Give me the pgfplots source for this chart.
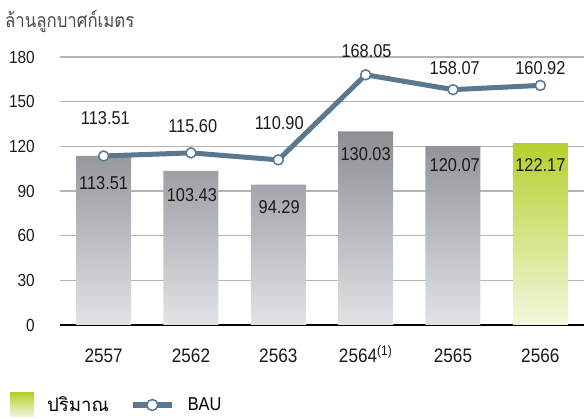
\documentclass[border=0pt]{standalone}
\usepackage{fontspec}
\setmainfont{Liberation Sans}[FakeStretch=0.88]
\newfontfamily\thaifont[Script=Thai]{Loma}
\newfontfamily\thaititle[Script=Thai, FakeStretch=0.86]{Loma}
\usepackage{pgfplots}
\pgfplotsset{compat=1.18}
\usepackage{pgfplotstable}
\definecolor{barTop}{HTML}{8B8E92}
\definecolor{barBot}{HTML}{E1E4E7}
\definecolor{grTop}{HTML}{B3D12E}
\definecolor{grBot}{HTML}{F4F7DE}
\definecolor{legGreen}{HTML}{B3D46B}
\definecolor{bauc}{HTML}{5A7890}
\definecolor{gridc}{HTML}{B4B4B4}
\definecolor{txt}{HTML}{1A1A1A}
\definecolor{titlegray}{HTML}{4A4A4A}

\pgfplotstableread{
x y
0 113.51
1 103.43
2 94.29
3 130.03
4 120.07
}\graybars
\pgfplotstableread{
x y
5 122.17
}\greenbar
\pgfplotstableread{
x y
0 113.51
1 115.60
2 110.90
3 168.05
4 158.07
5 160.92
}\bautable
\pgfplotstableread{
x y label
0 95.4 113.51
1.01 87.3 103.43
2.01 78.9 94.29
3.0 114.5 130.03
4.02 107.1 120.07
5.0 107.5 122.17
}\barlabels
\pgfplotstableread{
x y label
0.02 138.7 113.51
1.02 133.3 115.60
2.01 135.3 110.90
3.01 184.0 168.05
4.02 172.3 158.07
5.0 172.3 160.92
}\baulabels

\begin{document}
\begin{tikzpicture}
\path[use as bounding box] (0pt,0pt) rectangle (584pt,419pt);
\begin{axis}[
 at={(60pt,94pt)}, anchor=south west,
 scale only axis, width=524pt, height=268pt,
 xmin=-0.5, xmax=5.5, ymin=0, ymax=180,
 clip=false,
 axis x line*=bottom, axis y line*=left,
 x axis line style={black, line width=1.8pt, -},
 y axis line style={draw=none},
 major tick length=0pt,
 ytick={0,30,...,180},
 xtick={0,...,5},
 xticklabels={2557,2562,2563,2564\textsuperscript{(1)},2565,2566},
 ymajorgrids, grid style={gridc, line width=1.3pt},
 yticklabel style={anchor=east, inner sep=0pt, xshift=-25pt, font=\fontsize{17.5}{20}\selectfont, text=txt},
 xticklabel style={anchor=base, inner sep=0pt, yshift=-38pt, font=\fontsize{19.5}{22}\selectfont, text=txt},
 /pgf/number format/assume math mode=true,
 legend style={at={(axis description cs:-0.0954,-0.2985)}, anchor=west, draw=none, fill=none, inner sep=0pt, outer sep=0pt, font=\fontsize{18.6}{22}\selectfont, nodes={inner sep=0pt}, /tikz/every odd column/.append style={column sep=13pt}, /tikz/every even column/.append style={column sep=21pt}},
 legend columns=-1,
]
\addplot[ybar, bar width=55pt, bar shift=0pt, draw=none, top color=barTop, bottom color=barBot, forget plot] table[x=x,y=y] {\graybars};
\addplot[ybar, bar width=55pt, bar shift=0pt, draw=none, top color=grTop, bottom color=grBot, legend image code/.code={\fill[legGreen] (0pt,-12pt) rectangle (24pt,12pt);}] table[x=x,y=y] {\greenbar};
\addlegendentry{\thaifont ปริมาณ}
\addplot[bauc, line width=5pt, mark=*, mark size=5pt, mark options={fill=white, draw=bauc, line width=1.5pt}, legend image code/.code={\draw[bauc, line width=6pt] (0pt,0pt) -- (39pt,0pt); \draw[bauc, fill=white, line width=1.5pt] (19.5pt,0pt) circle (5.5pt);}] table[x=x,y=y] {\bautable};
\addlegendentry{BAU}
\addplot[only marks, mark=none, nodes near coords, point meta=explicit symbolic, nodes near coords style={anchor=center, font=\fontsize{18.6}{22}\selectfont, text=txt, inner sep=0pt}, forget plot] table[x=x, y=y, meta=label] {\barlabels};
\addplot[only marks, mark=none, nodes near coords, point meta=explicit symbolic, nodes near coords style={anchor=center, font=\fontsize{18.6}{22}\selectfont, text=txt, inner sep=0pt}, forget plot] table[x=x, y=y, meta=label] {\baulabels};
\end{axis}
\node[anchor=base west, inner sep=0pt, text=titlegray, font=\thaititle\fontsize{19.5}{22}\selectfont] at (5pt,391pt) {ล้านลูกบาศก์เมตร};
\end{tikzpicture}
\end{document}
